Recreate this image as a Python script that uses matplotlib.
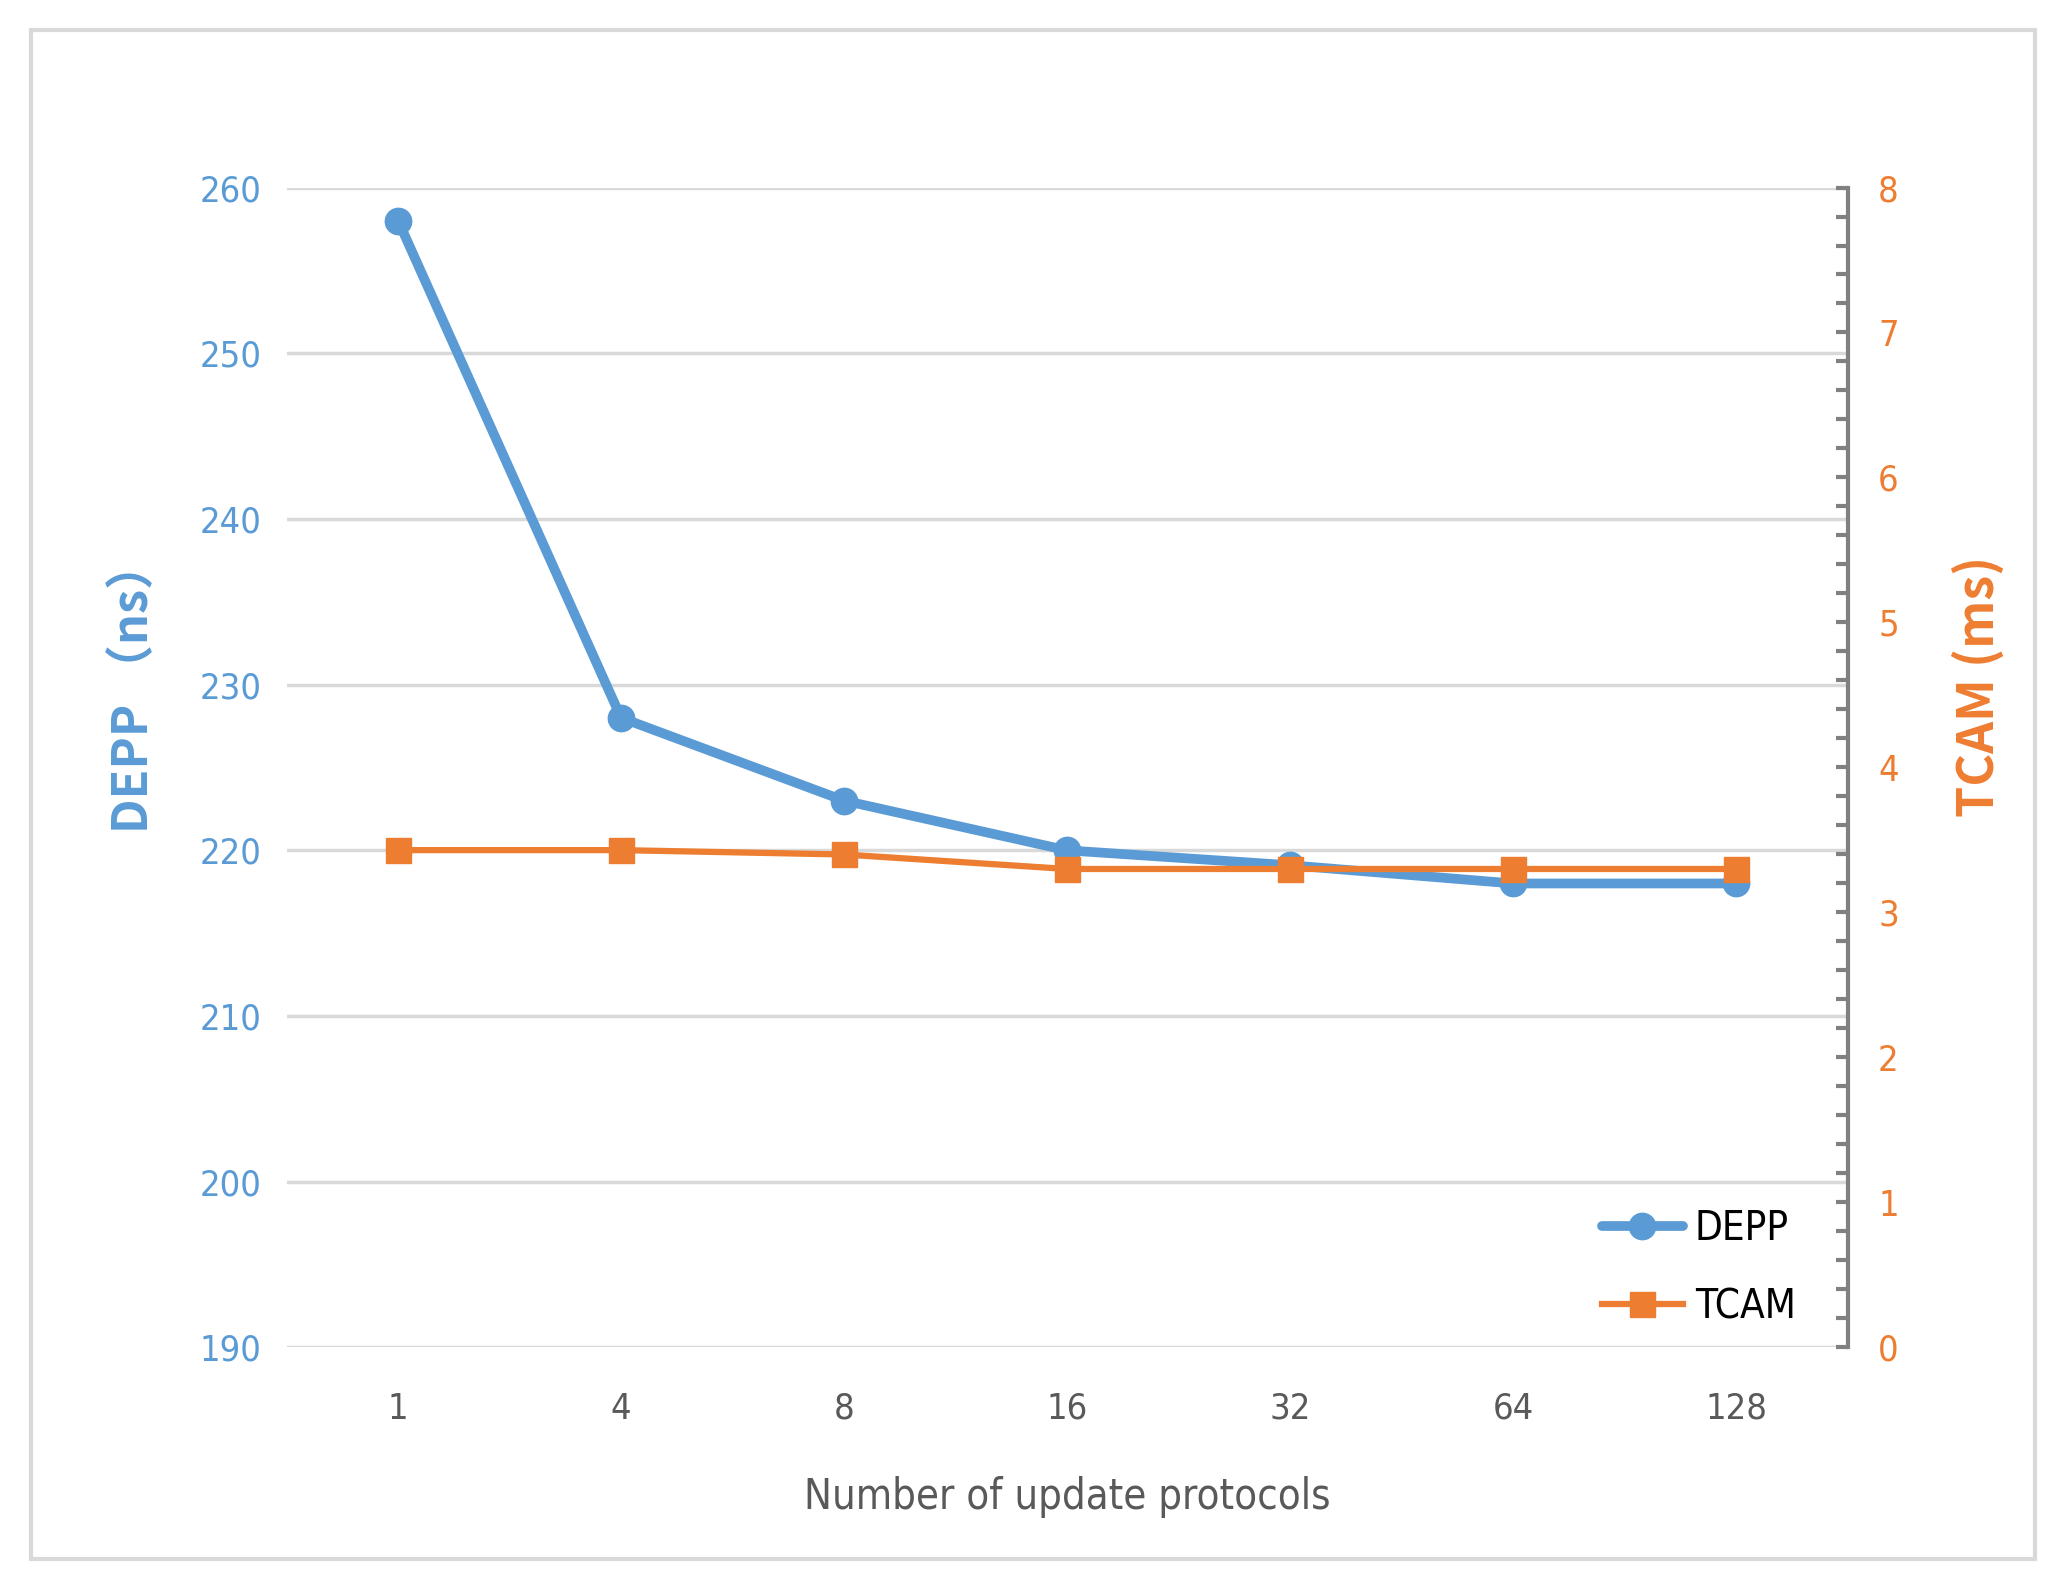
import matplotlib.pyplot as plt
from matplotlib.patches import Rectangle
from matplotlib.ticker import MultipleLocator

# data
protocols = ['1', '4', '8', '16', '32', '64', '128']
depp_ns = [258, 228, 223, 220, 219.1, 218, 218]
tcam_ms = [3.43, 3.43, 3.40, 3.30, 3.30, 3.30, 3.30]

blue = '#5B9BD5'
orange = '#ED7D31'
grid_c = '#D9D9D9'
cjk = ['Noto Sans CJK SC', 'DejaVu Sans']
tick_font = {'family': 'DejaVu Sans', 'stretch': 'condensed'}

fig = plt.figure(figsize=(20.62, 15.89), dpi=100)
# light frame round the whole chart
fig.patches.append(Rectangle((0.015, 0.019), 0.972, 0.962, transform=fig.transFigure,
                             fill=False, edgecolor=grid_c, linewidth=3))

ax = fig.add_axes([0.139, 0.152, 0.757, 0.730])
x = list(range(len(protocols)))

ax.set_xlim(-0.5, 6.5)
ax.set_ylim(190, 260)
ax.set_yticks(range(190, 261, 10))
ax.grid(axis='y', color=grid_c, linewidth=2.5)
ax.set_axisbelow(True)
for s in ['left', 'top', 'bottom', 'right']:
    ax.spines[s].set_visible(False)
ax.set_xticks(x)
ax.set_xticklabels(protocols)
ax.tick_params(axis='y', length=0, pad=18)
ax.tick_params(axis='x', length=0, pad=32)
for t in ax.get_yticklabels():
    t.set_color(blue)
    t.set_fontproperties(tick_font)
    t.set_fontsize(26)
for t in ax.get_xticklabels():
    t.set_color('#595959')
    t.set_fontproperties(tick_font)
    t.set_fontsize(26)
ax.set_ylabel('DEPP （ns）', color=blue, family=cjk, fontsize=35, fontweight='bold')
ax.yaxis.set_label_coords(-0.082, 0.57)
ax.set_xlabel('Number of update protocols', color='#595959', labelpad=36,
              fontproperties=tick_font)
ax.xaxis.label.set_fontsize(30)

ax2 = ax.twinx()
ax2.set_ylim(0, 8)
ax2.yaxis.set_major_locator(MultipleLocator(1))
ax2.yaxis.set_minor_locator(MultipleLocator(0.2))
for s in ['left', 'top', 'bottom']:
    ax2.spines[s].set_visible(False)
ax2.spines['right'].set_color('#808080')
ax2.spines['right'].set_linewidth(3)
ax2.tick_params(axis='y', which='both', direction='in', color='#808080', width=3, length=9, pad=22)
for t in ax2.get_yticklabels():
    t.set_color(orange)
    t.set_fontproperties(tick_font)
    t.set_fontsize(26)
ax2.set_ylabel('TCAM (ms)', color=orange, family=cjk, fontsize=36, fontweight='bold')
ax2.yaxis.set_label_coords(1.067, 0.57)

l1, = ax.plot(x, depp_ns, color=blue, linewidth=7, marker='o', markersize=19,
              solid_capstyle='round', label='DEPP', zorder=3)
l2, = ax2.plot(x, tcam_ms, color=orange, linewidth=4.5, marker='s', markersize=18,
               label='TCAM', zorder=4)

leg = ax2.legend(handles=[l1, l2], loc='lower right', bbox_to_anchor=(0.99, -0.014),
                 frameon=False, prop={'family': 'DejaVu Sans', 'stretch': 'condensed', 'size': 29},
                 handlelength=2.0, labelspacing=0.95, handletextpad=0.3)

fig.savefig('out.png', dpi=100)
